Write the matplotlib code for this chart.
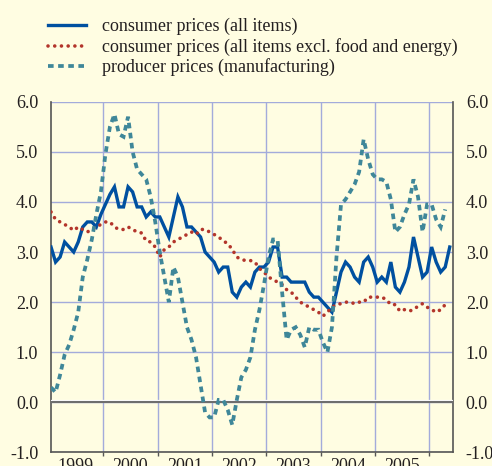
import matplotlib
matplotlib.use('Agg')
import matplotlib.pyplot as plt
import matplotlib.transforms as mtrans
import numpy as np

# monthly year-on-year rates, Jan 1999 onwards
cpi_all = [3.1, 2.8, 2.9, 3.2, 3.1, 3.0, 3.2, 3.5, 3.6, 3.6, 3.5, 3.75,
           3.95, 4.15, 4.3, 3.9, 3.9, 4.3, 4.2, 3.9, 3.9, 3.7, 3.8, 3.7,
           3.7, 3.5, 3.3, 3.7, 4.1, 3.9, 3.5, 3.5, 3.4, 3.3, 3.0, 2.9,
           2.8, 2.6, 2.7, 2.7, 2.2, 2.1, 2.3, 2.4, 2.3, 2.6, 2.7, 2.7,
           2.8, 3.1, 3.1, 2.5, 2.5, 2.4, 2.4, 2.4, 2.4, 2.2, 2.1, 2.1,
           2.0, 1.9, 1.8, 2.2, 2.6, 2.8, 2.7, 2.5, 2.4, 2.8, 2.9, 2.7,
           2.4, 2.5, 2.4, 2.8, 2.3, 2.2, 2.4, 2.7, 3.3, 2.9, 2.5, 2.6,
           3.1, 2.8, 2.6, 2.7, 3.1]
cpi_core = [3.8, 3.65, 3.6, 3.55, 3.5, 3.43, 3.5, 3.45, 3.4, 3.45, 3.5, 3.55,
            3.6, 3.6, 3.5, 3.45, 3.45, 3.5, 3.45, 3.4, 3.38, 3.22, 3.2, 3.1,
            2.9, 3.05, 3.1, 3.2, 3.25, 3.3, 3.35, 3.4, 3.35, 3.45, 3.45, 3.4,
            3.35, 3.3, 3.22, 3.17, 3.05, 2.9, 2.85, 2.83, 2.83, 2.8, 2.67, 2.6,
            2.5, 2.45, 2.4, 2.35, 2.25, 2.2, 2.1, 2.0, 1.95, 1.9, 1.85, 1.8,
            1.72, 1.8, 1.9, 1.95, 1.97, 2.0, 2.0, 1.97, 2.0, 2.0, 2.1, 2.1,
            2.1, 2.1, 2.05, 1.95, 1.95, 1.82, 1.85, 1.82, 1.85, 1.92, 1.97, 1.9,
            1.85, 1.8, 1.85, 1.95, 2.0]
ppi_manuf = [0.3, 0.2, 0.55, 0.95, 1.15, 1.45, 1.8, 2.5, 2.85, 3.25, 3.75, 4.2,
             4.95, 5.5, 5.75, 5.35, 5.3, 5.7, 5.0, 4.65, 4.55, 4.45, 4.1, 3.6,
             3.0, 2.5, 2.0, 2.7, 2.5, 2.0, 1.5, 1.25, 0.9, 0.35, -0.2, -0.3,
             -0.3, 0.05, 0.05, -0.15, -0.45, 0.05, 0.5, 0.65, 0.9, 1.45, 1.85, 2.35,
             2.9, 3.25, 3.25, 2.2, 1.25, 1.45, 1.5, 1.35, 1.1, 1.5, 1.45, 1.45,
             1.2, 1.0, 1.5, 2.9, 3.95, 4.05, 4.2, 4.35, 4.6, 5.25, 4.85, 4.55,
             4.45, 4.45, 4.4, 4.05, 3.4, 3.5, 3.75, 3.95, 4.45, 4.1, 3.4, 3.95,
             3.95, 3.65, 3.5, 3.85]
labels = ['consumer prices (all items)',
          'consumer prices (all items excl. food and energy)',
          'producer prices (manufacturing)']
years = [1999, 2000, 2001, 2002, 2003, 2004, 2005]

bg = '#fffde2'
grid_c = '#a3abdb'
txt = '#231f20'

plt.rcParams['font.family'] = ['Liberation Serif', 'DejaVu Serif']
plt.rcParams['font.size'] = 13

fig = plt.figure(figsize=(4.92, 4.66), dpi=100, facecolor=bg)
ax = fig.add_axes([0.103, 0.029, 0.8183, 0.7528], facecolor=bg)

def months(n):
    return 1999 + (np.arange(n) + 0.5) / 12

ax.plot(months(len(cpi_all)), cpi_all, color='#0050a0', lw=2.4,
        solid_joinstyle='miter', zorder=4, label=labels[0])
ax.plot(months(len(cpi_core)), cpi_core, color='#b3352b', lw=2.6,
        linestyle=(0, (0.01, 1.85)), dash_capstyle='round', zorder=5, label=labels[1])
ax.plot(months(len(ppi_manuf)), ppi_manuf, color='#3f8799', lw=2.7,
        linestyle=(0, (1.5, 1.2)), dash_joinstyle='miter', dash_capstyle='butt',
        zorder=6, label=labels[2])

# zero line with light edge
edge = ax.axhline(0, color='white', lw=1.6, zorder=3)
edge.set_transform(mtrans.offset_copy(edge.get_transform(), fig=fig, x=0, y=1.6, units='dots'))
ax.axhline(0, color='#6e6e6e', lw=1.5, zorder=3)

ax.set_xlim(1999.035, 2006.44)
ax.set_ylim(-1, 6)

ax.set_xticks(range(2000, 2007))
ax.set_xticklabels([])
ax.set_xticks([y + 0.5 for y in years], minor=True)
ax.set_xticklabels([str(y) for y in years], minor=True)
ax.tick_params(axis='x', which='major', direction='out', length=3, width=1, color='#555555')
ax.tick_params(axis='x', which='minor', length=0, pad=4, colors=txt)

ax.set_yticks(range(-1, 7))
ax.set_yticklabels(['%.1f' % v for v in range(-1, 7)])
ax.tick_params(axis='y', length=0, pad=9, colors=txt, labelright=True)

ax.grid(True, which='major', color=grid_c, lw=1.0)
ax.set_axisbelow(True)

ax.spines['top'].set_visible(False)
for s in ['left', 'right', 'bottom']:
    ax.spines[s].set_color('#555555')
    ax.spines[s].set_linewidth(1.2)

leg = ax.legend(loc='upper left', bbox_to_anchor=(0.0976, 0.961),
                bbox_transform=fig.transFigure, frameon=False, borderpad=0,
                borderaxespad=0, handlelength=2.1, handletextpad=0.9,
                labelspacing=0.14, fontsize=13)
for t in leg.get_texts():
    t.set_color(txt)

fig.savefig('out.png', dpi=100, facecolor=bg)
